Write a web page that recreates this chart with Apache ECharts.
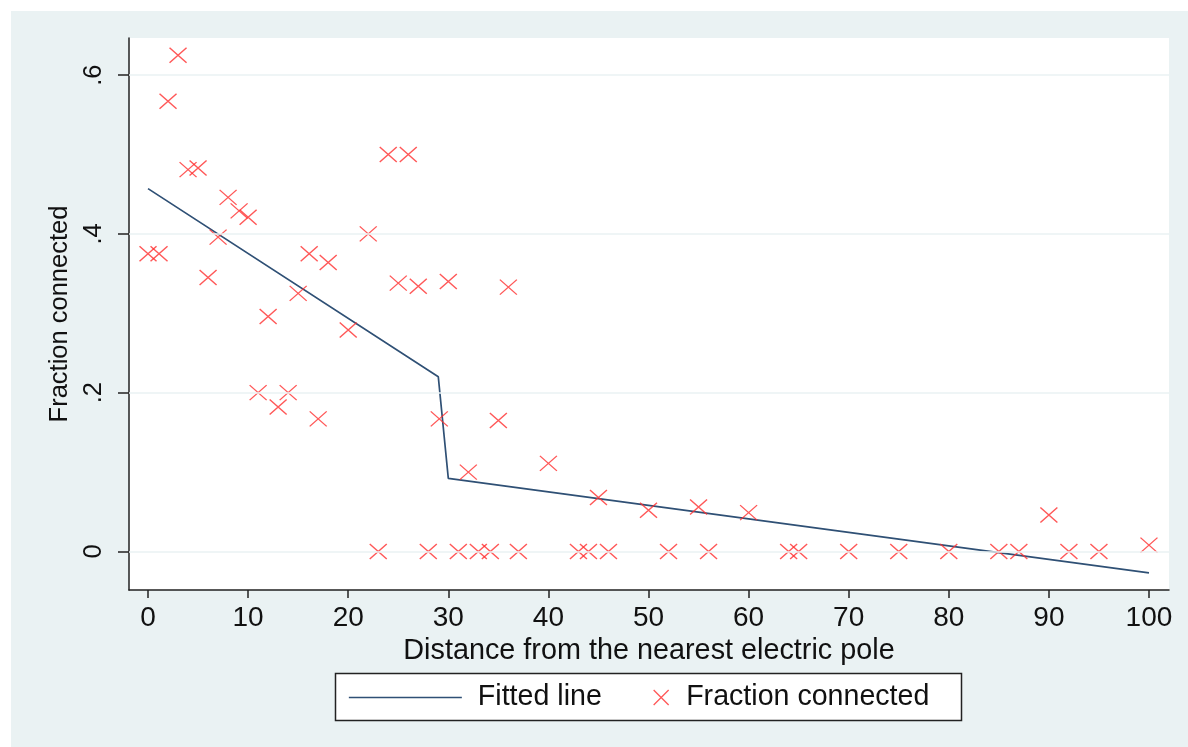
<!DOCTYPE html>
<html>
<head>
<meta charset="utf-8">
<script src="https://cdn.jsdelivr.net/npm/echarts@6/dist/echarts.min.js"></script>
<style>
html,body{margin:0;padding:0;background:#fff;}
#chart{width:1188px;height:747px;}
</style>
</head>
<body>
<div id="chart"></div>
<script>
// ---- data ----
const distance = [0, 1.1, 2, 3, 4, 5, 6, 7, 8, 9.1, 10, 11, 12, 13, 14, 15, 16.1, 17, 18, 20,
  22, 23, 24, 25, 26, 27, 28, 29.1, 30, 31, 32, 33, 34.2, 35, 36, 37, 40, 43, 44, 45,
  46, 50, 52, 55, 56, 60, 64, 65, 70, 75, 80, 85, 87, 90, 92, 95, 100];
const fraction = [0.375, 0.375, 0.567, 0.625, 0.481, 0.483, 0.345, 0.396, 0.446, 0.429, 0.421, 0.2, 0.296, 0.182, 0.2, 0.325, 0.375, 0.167, 0.364, 0.279,
  0.4, 0, 0.5, 0.338, 0.5, 0.334, 0, 0.167, 0.34, 0, 0.1, 0, 0, 0.165, 0.333, 0, 0.111, 0, 0, 0.068,
  0, 0.052, 0, 0.056, 0, 0.049, 0, 0, 0, 0, 0, 0, 0, 0.046, 0, 0, 0.008];
const fitX = [0, 29, 30, 100];
const fitY = [0.457, 0.220, 0.092, -0.027];
const xTicks = [0, 10, 20, 30, 40, 50, 60, 70, 80, 90, 100];
const yTicks = [0, 0.2, 0.4, 0.6];
const yTickLabels = ['0', '.2', '.4', '.6'];
const seriesNames = ['Fitted line', 'Fraction connected'];
const xTitle = 'Distance from the nearest electric pole';
const yTitle = 'Fraction connected';

// ---- styling ----
const FONT = '"Liberation Sans", Arial, sans-serif';
const TXT = '#111';
const AX = '#222';
const RED = '#ff2e2e';
const NAVY = '#2f5075';
const GRIDC = '#eaf2f3';

const chart = echarts.init(document.getElementById('chart'), null, {renderer: 'canvas'});

const scatterData = distance.map((d, i) => [d, fraction[i]]);
const fitData = fitX.map((d, i) => [d, fitY[i]]);

chart.setOption({
  animation: false,
  backgroundColor: 'transparent',
  graphic: [
    {type: 'rect', silent: true, z: -10, shape: {x: 11, y: 11, width: 1177, height: 736}, style: {fill: '#eaf2f3'}},
    {type: 'rect', silent: true, z: 1, shape: {x: 335.5, y: 673.5, width: 626, height: 47}, style: {fill: '#fff', stroke: AX, lineWidth: 1.5}}
  ],
  grid: {left: 129, top: 38, width: 1040, height: 552, show: true, backgroundColor: '#fff', borderWidth: 0},
  xAxis: {
    type: 'value', min: -1.9, max: 102,
    name: xTitle, nameLocation: 'middle', nameGap: 38,
    nameTextStyle: {fontSize: 28.8, fontFamily: FONT, color: TXT},
    axisLine: {onZero: false, lineStyle: {color: AX, width: 1.5}},
    axisTick: {customValues: xTicks, length: 8, lineStyle: {color: AX, width: 1.5}},
    axisLabel: {customValues: xTicks, margin: 14, fontSize: 28, fontFamily: FONT, color: TXT},
    splitLine: {show: false}
  },
  yAxis: {
    type: 'value', min: -0.0485, max: 0.6467,
    name: yTitle, nameLocation: 'middle', nameGap: 53,
    nameTextStyle: {fontSize: 25.5, fontFamily: FONT, color: TXT},
    axisLine: {onZero: false, lineStyle: {color: AX, width: 1.5}},
    axisTick: {customValues: yTicks, length: 11, lineStyle: {color: AX, width: 1.5}},
    axisLabel: {customValues: yTicks, rotate: 90, margin: 22, fontSize: 25.5, fontFamily: FONT, color: TXT,
      formatter: v => { const i = yTicks.findIndex(t => Math.abs(t - v) < 1e-9); return i >= 0 ? yTickLabels[i] : ''; }},
    splitLine: {show: false}
  },
  legend: [
    {data: [seriesNames[0]], left: 348, top: 683, padding: 0, itemWidth: 113, itemHeight: 14, selectedMode: false,
     itemStyle: {opacity: 0, borderWidth: 0},
     lineStyle: {color: NAVY, width: 1.7},
     textStyle: {fontSize: 28.6, fontFamily: FONT, color: TXT, padding: [0, 0, 0, 11]}},
    {data: [seriesNames[1]], left: 653, top: 683, padding: 0, itemWidth: 16, itemHeight: 15, selectedMode: false,
     icon: 'path://M0,0L1,1M1,0L0,1',
     itemStyle: {color: 'transparent', borderColor: RED, borderWidth: 1.3},
     textStyle: {fontSize: 28.6, fontFamily: FONT, color: TXT, padding: [0, 0, 0, 12]}}
  ],
  series: [
    {
      type: 'line', name: '_grid', data: [], silent: true, z: 1,
      markLine: {silent: true, symbol: 'none', label: {show: false},
        lineStyle: {color: GRIDC, width: 1.5, type: 'solid'},
        emphasis: {disabled: true},
        data: yTicks.map(t => ({yAxis: t}))}
    },
    {
      type: 'line', name: seriesNames[0], data: fitData, showSymbol: false, symbol: 'none', z: 2,
      lineStyle: {color: NAVY, width: 1.7}, itemStyle: {color: NAVY}, silent: true
    },
    {
      type: 'scatter', name: seriesNames[1], data: scatterData, z: 3, silent: true,
      symbol: 'path://M0,0L1,1M1,0L0,1', symbolSize: [17, 15],
      itemStyle: {color: 'transparent', borderColor: RED, borderWidth: 1.3}
    }
  ]
});
</script>
</body>
</html>
